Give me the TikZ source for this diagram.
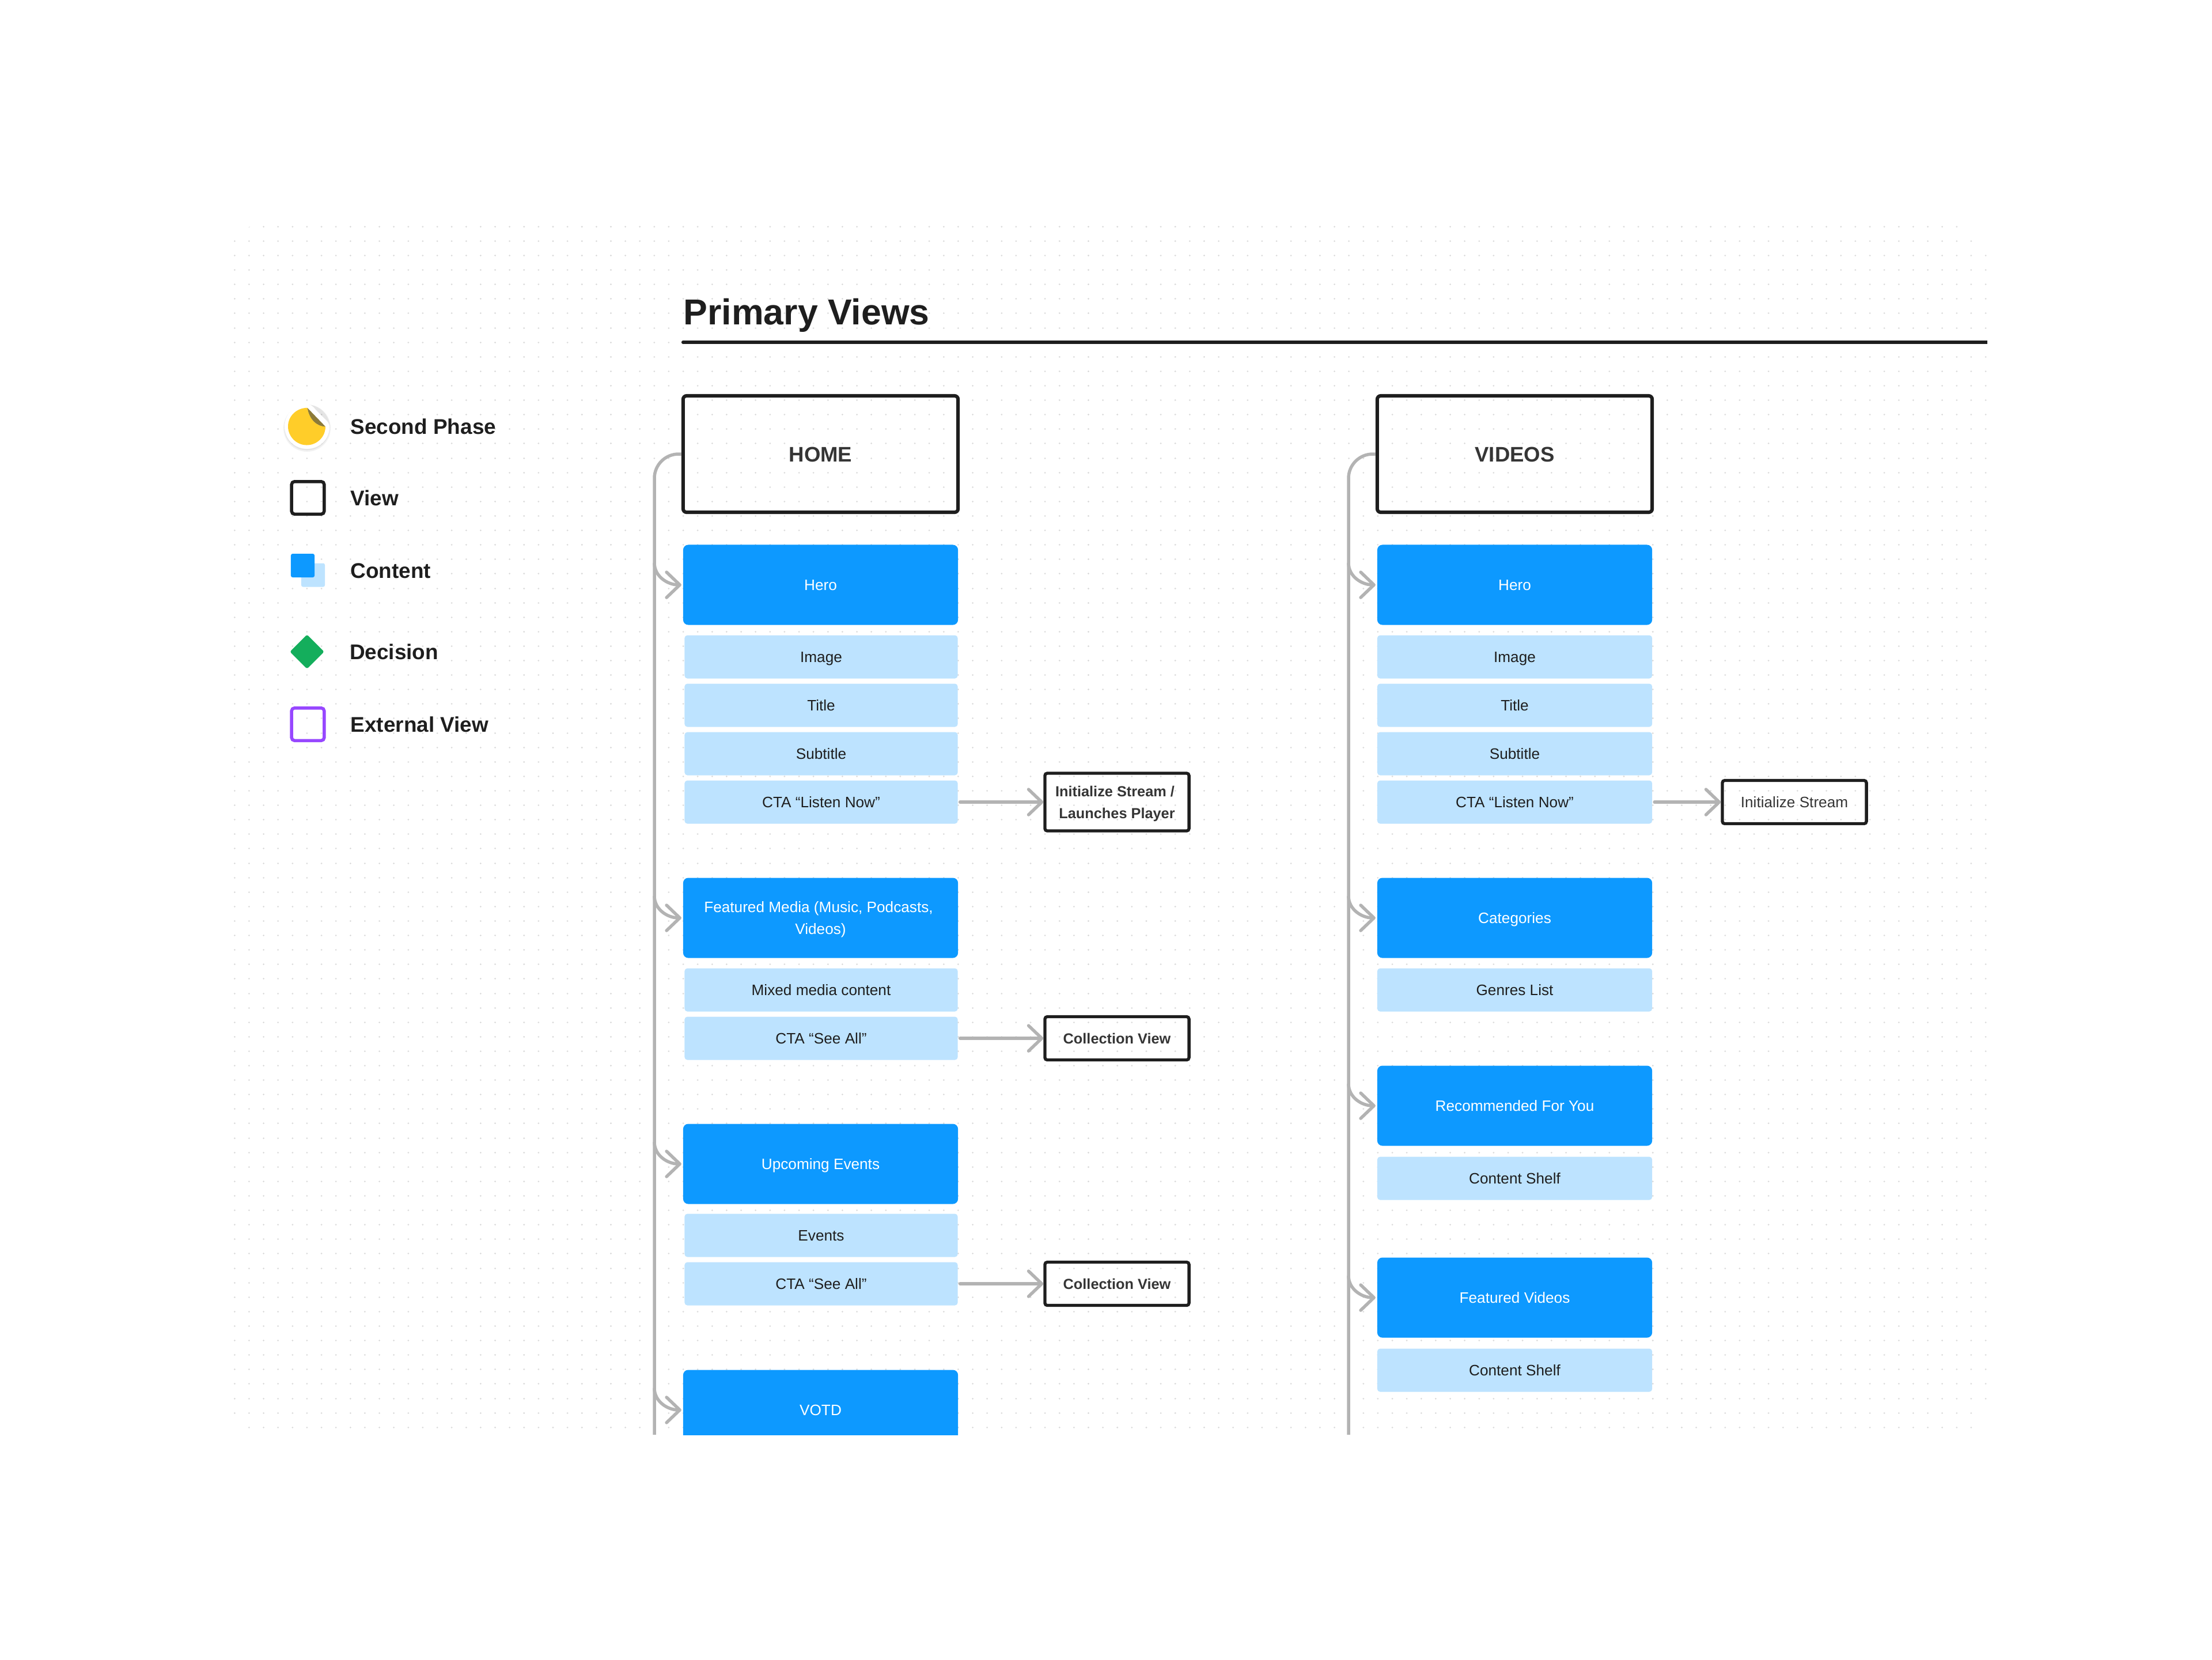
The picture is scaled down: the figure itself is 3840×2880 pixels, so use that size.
\documentclass[tikz,border=0pt]{standalone}
\usepackage{fontspec}
\setmainfont{Liberation Sans}
\usetikzlibrary{arrows.meta,shapes.geometric}
\definecolor{inkdark}{HTML}{1E1E1E}
\definecolor{contentblue}{HTML}{0D99FF}
\definecolor{contentlight}{HTML}{BDE3FF}
\definecolor{linegrey}{HTML}{B3B3B3}
\definecolor{dotgrey}{HTML}{DADADA}
\definecolor{extpurple}{HTML}{9747FF}
\definecolor{decgreen}{HTML}{14AE5C}
\definecolor{stickeryellow}{HTML}{FFCD29}
\definecolor{stickerfold}{HTML}{8C7A38}

\begin{document}
\begin{tikzpicture}[x=0.01cm,y=0.01cm]
        % Define styles
        \tikzset{
            viewbox/.style={rectangle, draw=inkdark, line width=.06cm, rounded corners=.06cm, inner sep=0, minimum width=4.77cm, minimum height=2.02cm, text height=.26cm, text depth=0cm, text=inkdark!90, font=\fontsize{10.4}{13}\selectfont\bfseries},
            linkbox/.style={rectangle, draw=inkdark, line width=.053cm, rounded corners=.04cm, inner sep=0, minimum width=2.5cm, minimum height=.75cm, text height=.19cm, text depth=0cm, align=center, text=inkdark!90, font=\fontsize{7.2}{10.7}\selectfont\bfseries},
            section/.style={rectangle, fill=contentblue, rounded corners=.09cm, inner sep=0, outer sep=.03cm, minimum width=4.77cm, minimum height=1.39cm, text height=.19cm, text depth=0cm, align=center, text=white, font=\fontsize{7.45}{10.7}\selectfont},
            item/.style={rectangle, fill=contentlight, rounded corners=.05cm, inner sep=0, outer sep=.04cm, minimum width=4.74cm, minimum height=.75cm, text height=.19cm, text depth=0cm, text=inkdark, font=\fontsize{7.45}{10.7}\selectfont},
            wideitem/.style={item, minimum width=4.77cm},
            legendtext/.style={anchor=west, inner sep=0, text=inkdark, font=\fontsize{10.5}{13}\selectfont\bfseries},
            legendbox/.style={rectangle, line width=.055cm, rounded corners=.05cm, inner sep=0, minimum size=.565cm},
            spine/.style={draw=linegrey, line width=.055cm, rounded corners=.42cm},
            branch/.style={draw=linegrey, line width=.055cm, -{Straight Barb[length=.23cm,width=.44cm,round]}},
            arrow/.style={branch, line cap=round},
            griddot/.style={dotgrey, line width=.03cm, line cap=round, dash pattern=on .01pt off .25072cm}
        }

        % Dot grid
        \begin{scope}
            \clip[rounded corners=.6cm] (396,-389) rectangle (3450,-2488);
            \foreach \j in {0,...,83}
                \draw[griddot] (407.3,{-393.3-\j*25.107}) -- (3450,{-393.3-\j*25.107});
        \end{scope}

        % Title
        \node[anchor=base west, inner sep=0, text=inkdark, font=\fontsize{17.8}{20}\selectfont\bfseries] (title_node) at (1186,-563) {Primary Views};
        \coordinate (rule_start) at (1186,-594);
        \coordinate (rule_end) at (3450,-594);
        \draw[inkdark, line width=.062cm] (rule_start) -- (rule_end);
        \fill[inkdark] (rule_start) circle (.031cm);

        % Legend
        \fill[black, opacity=.05] (533,-743) circle (.41cm);
        \fill[black, opacity=.06] (533,-742) circle (.395cm);
        \fill[white] (531,-701) .. controls (510,-701) and (494,-720) .. (494,-740) .. controls (494,-762) and (511,-779) .. (533,-779) .. controls (555,-779) and (572,-762) .. (572,-741) .. controls (572,-737) and (570,-733) .. (567,-730) -- (548,-711) .. controls (544,-705) and (538,-701) .. (531,-701) -- cycle;
        \fill[stickeryellow] (533.6,-707.8) .. controls (515,-707.8) and (500,-722) .. (500,-740) .. controls (500,-758) and (515,-772.5) .. (532.5,-772.5) .. controls (550.5,-772.5) and (565,-758) .. (565,-740.4) .. controls (550,-740) and (537,-728) .. (533.6,-707.8) -- cycle;
        \fill[stickerfold] (533.6,-707.8) -- (565,-740.4) .. controls (550,-740) and (537,-728) .. (533.6,-707.8) -- cycle;
        \node[legendtext] (legend_phase_text) at (608,-740) {Second Phase};

        \node[legendbox, draw=inkdark] (legend_view_box) at (534.5,-864) {};
        \node[legendtext] (legend_view_text) at (608,-864) {View};

        \node[rectangle, fill=contentlight, rounded corners=.03cm, minimum size=.41cm, inner sep=0] (legend_content_back) at (543.5,-998) {};
        \node[rectangle, fill=contentblue, rounded corners=.03cm, minimum size=.41cm, inner sep=0] (legend_content_front) at (525.5,-981.5) {};
        \node[legendtext] (legend_content_text) at (608,-990.5) {Content};

        \node[diamond, fill=decgreen, rounded corners=.03cm, aspect=1, minimum size=.6cm, inner sep=0] (legend_decision_shape) at (533,-1131) {};
        \node[legendtext] (legend_decision_text) at (606.5,-1131) {Decision};

        \node[legendbox, draw=extpurple] (legend_external_box) at (534.5,-1257) {};
        \node[legendtext] (legend_external_text) at (608,-1257) {External View};

        % Home
        \node[viewbox] (home_node) at (1424.5,-788) {HOME};
        \node[section] (home_hero_node) at (1424.5,-1015) {Hero};
        \node[item] (home_image_node) at (1425.5,-1140) {Image};
        \node[item] (home_title_node) at (1425.5,-1224) {Title};
        \node[item] (home_subtitle_node) at (1425.5,-1308) {Subtitle};
        \node[item] (home_listen_node) at (1425.5,-1392) {CTA “Listen Now”};
        \node[linkbox, minimum height=1cm, text height=.565cm] (home_stream_node) at (1939,-1392) {Initialize Stream /\hspace*{.07cm}\\Launches Player};
        \node[section, text height=.565cm] (home_media_node) at (1424.5,-1593) {Featured Media (Music, Podcasts,\hspace*{.07cm}\\Videos)};
        \node[item] (home_mixed_node) at (1425.5,-1718) {Mixed media content};
        \node[item] (home_see_node) at (1425.5,-1802) {CTA “See All”};
        \node[linkbox] (home_collection_node) at (1939,-1802) {Collection View};
        \node[section] (home_events_node) at (1424.5,-2020) {Upcoming Events};
        \node[item] (home_list_node) at (1425.5,-2144) {Events};
        \node[item] (home_more_node) at (1425.5,-2228) {CTA “See All”};
        \node[linkbox] (home_more_view_node) at (1939,-2228) {Collection View};
        \begin{scope}
            \clip (0,0) rectangle (3840,-2490);
            \node[section] (home_votd_node) at (1424.5,-2447) {VOTD};
        \end{scope}

        % Home arrows
        \coordinate (home_end) at (1136,-2490);
        \coordinate (home_bus_1) at (1136,-977);
        \coordinate (home_bus_2) at (1136,-1555);
        \coordinate (home_bus_3) at (1136,-1982);
        \coordinate (home_bus_4) at (1136,-2409);
        \draw[spine] (home_node.west) -| (home_end);
        \draw[branch] (home_bus_1) to[out=-90,in=180] (home_hero_node.west);
        \draw[branch] (home_bus_2) to[out=-90,in=180] (home_media_node.west);
        \draw[branch] (home_bus_3) to[out=-90,in=180] (home_events_node.west);
        \draw[branch] (home_bus_4) to[out=-90,in=180] (home_votd_node.west);
        \draw[arrow] (home_listen_node) -- (home_stream_node);
        \draw[arrow] (home_see_node) -- (home_collection_node);
        \draw[arrow] (home_more_node) -- (home_more_view_node);

        % Videos
        \node[viewbox] (videos_node) at (2629.5,-788) {VIDEOS};
        \node[section] (videos_hero_node) at (2629.5,-1015) {Hero};
        \node[wideitem] (videos_image_node) at (2629.5,-1140) {Image};
        \node[wideitem] (videos_title_node) at (2629.5,-1224) {Title};
        \node[wideitem] (videos_subtitle_node) at (2629.5,-1308) {Subtitle};
        \node[wideitem] (videos_listen_node) at (2629.5,-1392) {CTA “Listen Now”};
        \node[linkbox, font=\fontsize{7.45}{10.7}\selectfont] (videos_stream_node) at (3115,-1392) {Initialize Stream};
        \node[section] (videos_categories_node) at (2629.5,-1593) {Categories};
        \node[wideitem] (videos_genres_node) at (2629.5,-1718) {Genres List};
        \node[section] (videos_recommended_node) at (2629.5,-1919) {Recommended For You};
        \node[wideitem] (videos_shelf_node) at (2629.5,-2045) {Content Shelf};
        \node[section] (videos_featured_node) at (2629.5,-2252) {Featured Videos};
        \node[wideitem] (videos_more_shelf_node) at (2629.5,-2378) {Content Shelf};

        % Videos arrows
        \coordinate (videos_end) at (2341,-2490);
        \coordinate (videos_bus_1) at (2341,-977);
        \coordinate (videos_bus_2) at (2341,-1555);
        \coordinate (videos_bus_3) at (2341,-1881);
        \coordinate (videos_bus_4) at (2341,-2214);
        \draw[spine] (videos_node.west) -| (videos_end);
        \draw[branch] (videos_bus_1) to[out=-90,in=180] (videos_hero_node.west);
        \draw[branch] (videos_bus_2) to[out=-90,in=180] (videos_categories_node.west);
        \draw[branch] (videos_bus_3) to[out=-90,in=180] (videos_recommended_node.west);
        \draw[branch] (videos_bus_4) to[out=-90,in=180] (videos_featured_node.west);
        \draw[arrow] (videos_listen_node) -- (videos_stream_node);

        \useasboundingbox (0,0) rectangle (3840,-2880);
    \end{tikzpicture}
\end{document}
